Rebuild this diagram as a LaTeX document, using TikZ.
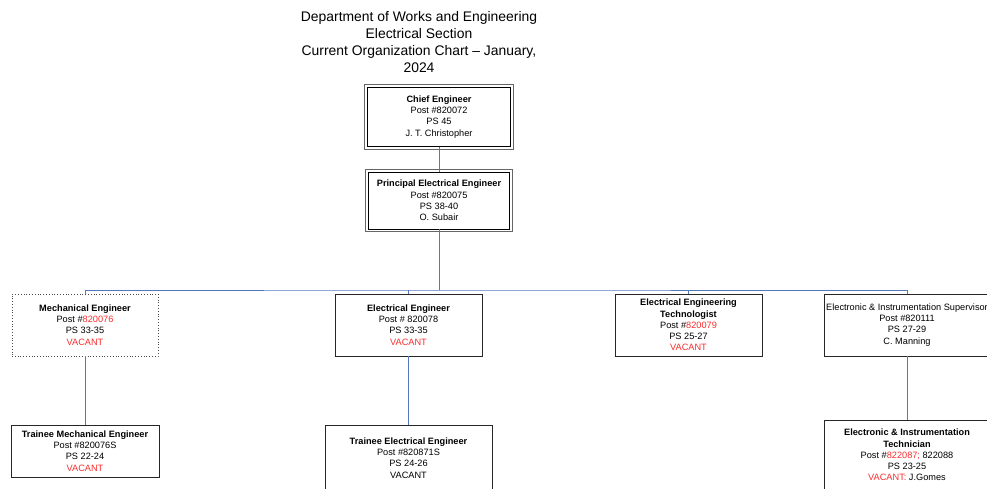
\documentclass[tikz,border=0pt]{standalone}
\usepackage{fontspec}
\setmainfont{Liberation Sans}
\usetikzlibrary{positioning}

\definecolor{linkblue}{RGB}{84,120,190}
\definecolor{vacred}{RGB}{250,45,45}
\newcommand{\vac}[1]{\textcolor{vacred}{#1}}

\tikzset{
  orgbox/.style={draw=black!85, line width=0.8pt, align=center, inner sep=0pt,
    font=\fontsize{9.2}{11.2}\selectfont},
  headbox/.style={orgbox, draw=black, line width=0.8pt},
  headframe/.style={draw=black!60, line width=1.2pt},
  vacbox/.style={orgbox, draw=black!70, dotted, line width=0.8pt},
  link/.style={draw=linkblue, line width=0.6pt},
}

\begin{document}
\begin{tikzpicture}[x=1pt,y=1pt,yscale=-1]
\useasboundingbox (0,0) rectangle (987,489);

% Title
\node[align=center, font=\fontsize{13.9}{16.7}\selectfont] (title) at (419,42)
  {Department of Works and Engineering\\Electrical Section\\Current Organization Chart -- January,\\2024};

% Top posts
\node[headbox, minimum width=143pt, minimum height=59pt] (chief) at (439,117)
  {\textbf{Chief Engineer}\\Post \#820072\\PS 45\\J. T. Christopher};
\node[headbox, minimum width=141pt, minimum height=57pt] (principal) at (439,200.5)
  {\textbf{Principal Electrical Engineer}\\Post \#820075\\PS 38-40\\O. Subair};
% y is flipped, so the shifts go the other way round
\draw[headframe] ([xshift=-2.4pt,yshift=-2.4pt]chief.north west) rectangle ([xshift=2.4pt,yshift=2.4pt]chief.south east);
\draw[headframe] ([xshift=-2.4pt,yshift=-2.4pt]principal.north west) rectangle ([xshift=2.4pt,yshift=2.4pt]principal.south east);
\coordinate (bus) at (439,290);

% Second level
\node[vacbox, minimum width=146pt, minimum height=62pt] (mech) at (85,325)
  {\textbf{Mechanical Engineer}\\Post \#\vac{820076}\\PS 33-35\\\vac{VACANT}};
\node[orgbox, minimum width=147pt, minimum height=62pt] (elec) at (408.5,325)
  {\textbf{Electrical Engineer}\\Post \# 820078\\PS 33-35\\\vac{VACANT}};
\node[orgbox, minimum width=147pt, minimum height=62pt] (tech) at (688.5,325)
  {\textbf{Electrical Engineering}\\\textbf{Technologist}\\Post \#\vac{820079}\\PS 25-27\\\vac{VACANT}};
\node[orgbox, minimum width=166pt, minimum height=62pt] (supv) at (907,325)
  {Electronic \& Instrumentation Supervisor\\Post \#820111\\PS 27-29\\C. Manning};

% Third level
\node[orgbox, minimum width=148pt, minimum height=52pt] (tmech) at (85,451)
  {\textbf{Trainee Mechanical Engineer}\\Post \#820076S\\PS 22-24\\\vac{VACANT}};
\node[orgbox, minimum width=167pt, minimum height=66pt] (telec) at (408.5,458)
  {\textbf{Trainee Electrical Engineer}\\Post \#820871S\\PS 24-26\\VACANT};
\node[orgbox, minimum width=166pt, minimum height=70pt] (eitech) at (907,455)
  {\textbf{Electronic \& Instrumentation}\\\textbf{Technician}\\Post \#\vac{822087;} 822088\\PS 23-25\\\vac{VACANT:} J.Gomes};

% Connectors
\draw[link] (chief) -- (principal);
\draw[link] (principal) -- (bus);
\draw[link] (mech.north) |- (bus) -| (supv.north);
\draw[link] (elec.north) -- (elec.north |- bus);
\draw[link] (tech.north) -- (tech.north |- bus);
\draw[link] (mech) -- (tmech);
\draw[link] (elec) -- (telec);
\draw[link] (supv) -- (eitech);

\end{tikzpicture}
\end{document}
